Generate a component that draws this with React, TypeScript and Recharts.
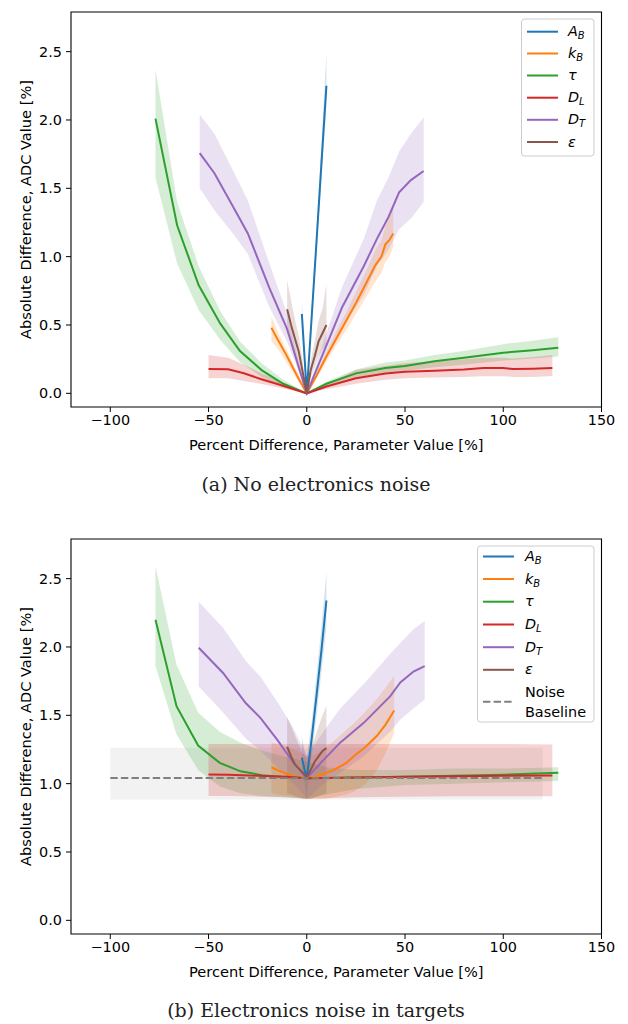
import React from 'react';
import { ComposedChart, Line, Area, XAxis, YAxis, ReferenceArea } from 'recharts';

const FONT = 'DejaVu Sans';
const C_BLUE = '#1f77b4';
const C_ORANGE = '#ff7f0e';
const C_GREEN = '#2ca02c';
const C_RED = '#d62728';
const C_PURPLE = '#9467bd';
const C_BROWN = '#8c564b';
const C_GRAY = '#7f7f7f';

const X_TICKS = [-100, -50, 0, 50, 100, 150];
const Y_TICKS = [0, 0.5, 1, 1.5, 2, 2.5];
const X_DOMAIN = [-120, 150];
const Y_DOMAIN = [-0.1, 2.79];
const X_LABEL = 'Percent Difference, Parameter Value [%]';
const Y_LABEL = 'Absolute Difference, ADC Value [%]';
const CAPTION_A = '(a) No electronics noise';
const CAPTION_B = '(b) Electronics noise in targets';

// ---------- Panel (a): no electronics noise ----------
const A_AB_X = [-2.5, -1.25, 0, 2.5, 5, 7.5, 10];
const A_AB_Y = [0.58, 0.29, 0, 0.56, 1.12, 1.69, 2.25];
const A_AB_LO = [0.52, 0.26, 0, 0.52, 1.04, 1.58, 2.1];
const A_AB_HI = [0.68, 0.34, 0, 0.61, 1.22, 1.84, 2.49];

const A_KB_X = [-18, -15, -10, -5, 0, 5, 10, 15, 20, 25, 30, 35, 38, 40, 42, 44];
const A_KB_Y = [0.48, 0.4, 0.27, 0.13, 0, 0.13, 0.27, 0.4, 0.53, 0.66, 0.8, 0.94, 1.0, 1.09, 1.12, 1.17];
const A_KB_LO = [0.38, 0.33, 0.22, 0.1, 0, 0.11, 0.23, 0.35, 0.46, 0.58, 0.7, 0.82, 0.88, 0.96, 1.0, 1.07];
const A_KB_HI = [0.56, 0.46, 0.31, 0.16, 0, 0.15, 0.3, 0.45, 0.59, 0.74, 0.89, 1.05, 1.12, 1.22, 1.28, 1.36];

const A_TAU_X = [-77, -66, -55, -44, -34, -23, -12, 0, 10, 25, 40, 50, 65, 80, 100, 115, 128];
const A_TAU_Y = [2.01, 1.23, 0.79, 0.51, 0.31, 0.17, 0.07, 0, 0.07, 0.146, 0.185, 0.2, 0.235, 0.26, 0.297, 0.315, 0.334];
const A_TAU_LO = [1.58, 0.95, 0.61, 0.39, 0.23, 0.12, 0.05, 0, 0.055, 0.115, 0.15, 0.165, 0.19, 0.21, 0.24, 0.255, 0.27];
const A_TAU_HI = [2.37, 1.4, 0.93, 0.6, 0.38, 0.22, 0.1, 0, 0.085, 0.175, 0.225, 0.24, 0.28, 0.31, 0.36, 0.385, 0.41];

const A_DL_X = [-50, -40, -32, -23.5, -15, 0, 10, 25, 40, 50, 65, 80, 90, 100, 105, 115, 125];
const A_DL_Y = [0.178, 0.176, 0.147, 0.105, 0.068, 0, 0.05, 0.11, 0.145, 0.158, 0.165, 0.175, 0.185, 0.185, 0.178, 0.18, 0.185];
const A_DL_LO = [0.11, 0.11, 0.09, 0.07, 0.045, 0, 0.03, 0.07, 0.1, 0.11, 0.115, 0.12, 0.125, 0.125, 0.12, 0.12, 0.127];
const A_DL_HI = [0.28, 0.26, 0.21, 0.15, 0.095, 0, 0.07, 0.17, 0.2, 0.22, 0.235, 0.25, 0.26, 0.26, 0.255, 0.265, 0.28];

const A_DT_X = [-54.5, -47, -36.5, -30, -19, -10, 0, 10, 18, 29, 35.7, 41.6, 47, 53, 59.5];
const A_DT_Y = [1.757, 1.61, 1.34, 1.17, 0.77, 0.47, 0, 0.35, 0.63, 0.93, 1.13, 1.29, 1.47, 1.56, 1.627];
const A_DT_LO = [1.5, 1.34, 1.15, 1.02, 0.63, 0.38, 0, 0.26, 0.48, 0.72, 0.93, 1.05, 1.2, 1.28, 1.4];
const A_DT_HI = [2.04, 1.9, 1.6, 1.41, 0.95, 0.58, 0, 0.44, 0.78, 1.13, 1.41, 1.58, 1.77, 1.9, 2.02];

const A_EPS_X = [-10, -8, -6, -4, -2, 0, 2, 4, 6, 8, 10];
const A_EPS_Y = [0.615, 0.5, 0.4, 0.3, 0.15, 0, 0.17, 0.27, 0.38, 0.44, 0.5];
const A_EPS_LO = [0.45, 0.37, 0.29, 0.21, 0.1, 0, 0.11, 0.19, 0.27, 0.32, 0.36];
const A_EPS_HI = [0.83, 0.68, 0.54, 0.41, 0.22, 0, 0.24, 0.38, 0.53, 0.62, 0.8];

// ---------- Panel (b): electronics noise in targets ----------
const B_NOISE_X = [-100, 120];
const B_NOISE_Y = [1.042, 1.042];
const B_NOISE_LO = [0.884, 0.884];
const B_NOISE_HI = [1.262, 1.262];

const B_AB_X = [-2.5, -1.25, 0, 2.5, 5, 7.5, 10];
const B_AB_Y = [1.19, 1.11, 1.04, 1.33, 1.65, 1.98, 2.34];
const B_AB_LO = [1.1, 1.0, 0.89, 1.2, 1.5, 1.82, 2.15];
const B_AB_HI = [1.35, 1.25, 1.2, 1.45, 1.8, 2.15, 2.55];

const B_KB_X = [-18, -15, -10, -5, 0, 5.3, 10, 13.7, 20, 23.9, 30, 35.7, 40, 44.5];
const B_KB_Y = [1.12, 1.1, 1.07, 1.05, 1.04, 1.054, 1.08, 1.1, 1.15, 1.2, 1.27, 1.35, 1.43, 1.535];
const B_KB_LO = [0.93, 0.92, 0.91, 0.9, 0.89, 0.89, 0.89, 0.9, 0.92, 0.94, 1.0, 1.1, 1.22, 1.37];
const B_KB_HI = [1.3, 1.29, 1.27, 1.24, 1.2, 1.22, 1.27, 1.31, 1.39, 1.44, 1.53, 1.62, 1.7, 1.79];

const B_TAU_X = [-77, -66.3, -55.3, -44.3, -33.7, -22.7, -12, 0, 10, 25, 50, 75, 100, 128];
const B_TAU_Y = [2.2, 1.567, 1.279, 1.152, 1.09, 1.062, 1.048, 1.04, 1.042, 1.045, 1.05, 1.058, 1.066, 1.079];
const B_TAU_LO = [1.86, 1.36, 1.1, 0.98, 0.93, 0.91, 0.9, 0.89, 0.92, 0.96, 0.99, 1.0, 1.01, 1.02];
const B_TAU_HI = [2.59, 1.87, 1.52, 1.38, 1.3, 1.24, 1.2, 1.16, 1.12, 1.1, 1.1, 1.11, 1.11, 1.12];

const B_DL_X = [-50, -40, -25, -10, 0, 25, 50, 75, 100, 125];
const B_DL_Y = [1.067, 1.065, 1.058, 1.05, 1.04, 1.045, 1.05, 1.055, 1.058, 1.06];
const B_DL_LO = [0.91, 0.91, 0.905, 0.9, 0.89, 0.9, 0.905, 0.907, 0.908, 0.908];
const B_DL_HI = [1.29, 1.29, 1.29, 1.29, 1.29, 1.29, 1.29, 1.29, 1.29, 1.286];

const B_DT_X = [-55, -42.6, -31.1, -23.5, -15, -6.6, 0, 7, 17, 29, 42.5, 47.6, 54.3, 60];
const B_DT_Y = [1.994, 1.81, 1.59, 1.48, 1.32, 1.15, 1.04, 1.15, 1.3, 1.445, 1.64, 1.74, 1.82, 1.86];
const B_DT_LO = [1.71, 1.52, 1.33, 1.24, 1.12, 1.0, 0.89, 0.98, 1.08, 1.2, 1.38, 1.47, 1.55, 1.615];
const B_DT_HI = [2.33, 2.14, 1.9, 1.78, 1.6, 1.4, 1.2, 1.35, 1.55, 1.73, 1.95, 2.03, 2.13, 2.19];

const B_EPS_X = [-10, -8, -6, -4, -2, 0, 2, 4, 6, 8, 10];
const B_EPS_Y = [1.27, 1.2, 1.14, 1.11, 1.08, 1.05, 1.1, 1.16, 1.2, 1.24, 1.26];
const B_EPS_LO = [0.93, 0.92, 0.91, 0.9, 0.89, 0.89, 0.89, 0.9, 0.91, 0.92, 0.93];
const B_EPS_HI = [1.49, 1.42, 1.35, 1.28, 1.22, 1.18, 1.25, 1.33, 1.42, 1.5, 1.57];

// legend labels: [main, subscript]
const LEGEND_NAMES = ['A', 'k', 'τ', 'D', 'D', 'ε'];
const LEGEND_SUBS = ['B', 'B', '', 'L', 'T', ''];
const SERIES_COLORS = [C_BLUE, C_ORANGE, C_GREEN, C_RED, C_PURPLE, C_BROWN];
const NOISE_LABEL = ['Noise', 'Baseline'];

type Pt = { x: number; y: number; lo: number; hi: number };
function zip(x: number[], y: number[], lo: number[], hi: number[]): Pt[] {
  return x.map((v, i) => ({ x: v, y: y[i], lo: lo[i], hi: hi[i] }));
}

const SERIES_A = [
  zip(A_AB_X, A_AB_Y, A_AB_LO, A_AB_HI),
  zip(A_KB_X, A_KB_Y, A_KB_LO, A_KB_HI),
  zip(A_TAU_X, A_TAU_Y, A_TAU_LO, A_TAU_HI),
  zip(A_DL_X, A_DL_Y, A_DL_LO, A_DL_HI),
  zip(A_DT_X, A_DT_Y, A_DT_LO, A_DT_HI),
  zip(A_EPS_X, A_EPS_Y, A_EPS_LO, A_EPS_HI),
];
const SERIES_B = [
  zip(B_AB_X, B_AB_Y, B_AB_LO, B_AB_HI),
  zip(B_KB_X, B_KB_Y, B_KB_LO, B_KB_HI),
  zip(B_TAU_X, B_TAU_Y, B_TAU_LO, B_TAU_HI),
  zip(B_DL_X, B_DL_Y, B_DL_LO, B_DL_HI),
  zip(B_DT_X, B_DT_Y, B_DT_LO, B_DT_HI),
  zip(B_EPS_X, B_EPS_Y, B_EPS_LO, B_EPS_HI),
];
const NOISE_B = zip(B_NOISE_X, B_NOISE_Y, B_NOISE_LO, B_NOISE_HI);

const fmtX = (v: number) => (v < 0 ? `\u2212${Math.abs(v)}` : `${v}`);
const fmtY = (v: number) => v.toFixed(1);
const band = (d: Pt) => [d.lo, d.hi];

function XLabel(props: any) {
  const vb = props.viewBox || {};
  return (
    <text x={vb.x + vb.width / 2} y={vb.y + 43} textAnchor="middle" fontFamily={FONT} fontSize={14.6} fill="#000">
      {X_LABEL}
    </text>
  );
}
function YLabel(props: any) {
  const vb = props.viewBox || {};
  const cx = 25;
  const cy = vb.y + vb.height / 2;
  return (
    <text x={cx} y={cy} transform={`rotate(-90 ${cx} ${cy})`} textAnchor="middle" dominantBaseline="central" fontFamily={FONT} fontSize={14.6} fill="#000">
      {Y_LABEL}
    </text>
  );
}

function Panel({ series, noise }: { series: Pt[][]; noise?: Pt[] }) {
  const tickStyle = { fill: '#000', fontSize: 14.4, fontFamily: FONT };
  return (
    <ComposedChart width={628} height={470} margin={{ top: 12, right: 26.5, bottom: 0, left: 0 }}>
      <XAxis
        type="number"
        dataKey="x"
        domain={X_DOMAIN}
        ticks={X_TICKS}
        allowDataOverflow
        tickFormatter={fmtX}
        tick={tickStyle}
        tickLine={{ stroke: '#000' }}
        axisLine={false}
        tickSize={5}
        tickMargin={3}
        height={63}
        label={<XLabel />}
      />
      <YAxis
        type="number"
        domain={Y_DOMAIN}
        ticks={Y_TICKS}
        allowDataOverflow
        tickFormatter={fmtY}
        tick={tickStyle}
        tickLine={{ stroke: '#000' }}
        axisLine={false}
        tickSize={5}
        tickMargin={4}
        width={71}
        label={<YLabel />}
      />
      {noise && (
        <Area
          data={noise}
          dataKey={band}
          type="linear"
          stroke="none"
          fill={C_GRAY}
          fillOpacity={0.1}
          isAnimationActive={false}
          dot={false}
          activeDot={false}
        />
      )}
      {series.map((d, i) => (
        <Area
          key={`band${i}`}
          data={d}
          dataKey={band}
          type="linear"
          stroke="none"
          fill={SERIES_COLORS[i]}
          fillOpacity={0.2}
          isAnimationActive={false}
          dot={false}
          activeDot={false}
        />
      ))}
      {series.map((d, i) => (
        <Line
          key={`line${i}`}
          data={d}
          dataKey="y"
          type="linear"
          stroke={SERIES_COLORS[i]}
          strokeWidth={2}
          dot={false}
          activeDot={false}
          isAnimationActive={false}
        />
      ))}
      {noise && (
        <Line
          data={noise}
          dataKey="y"
          type="linear"
          stroke={C_GRAY}
          strokeWidth={2}
          strokeDasharray="7.4 3.2"
          dot={false}
          activeDot={false}
          isAnimationActive={false}
        />
      )}
      <ReferenceArea
        x1={X_DOMAIN[0]}
        x2={X_DOMAIN[1]}
        y1={Y_DOMAIN[0]}
        y2={Y_DOMAIN[1]}
        fill="none"
        stroke="#000"
        strokeWidth={1.1}
        ifOverflow="visible"
      />
    </ComposedChart>
  );
}

function LegendLabel({ x, y, i }: { x: number; y: number; i: number }) {
  return (
    <text x={x} y={y} fontFamily={FONT} fontSize={14.4} fill="#000">
      <tspan fontStyle="italic">{LEGEND_NAMES[i]}</tspan>
      {LEGEND_SUBS[i] && (
        <tspan fontStyle="italic" fontSize={10} dy={3}>
          {LEGEND_SUBS[i]}
        </tspan>
      )}
    </text>
  );
}

function LegendBox({ x, y, w, h, rows, lx1, lx2, tx, noiseRow }: any) {
  return (
    <g>
      <rect x={x} y={y} width={w} height={h} rx={3} fill="#fff" fillOpacity={0.8} stroke="#cccccc" strokeWidth={1} />
      {rows.map((cy: number, i: number) => (
        <g key={i}>
          <line x1={lx1} x2={lx2} y1={cy} y2={cy} stroke={SERIES_COLORS[i]} strokeWidth={2} />
          <LegendLabel x={tx} y={cy + 4.5} i={i} />
        </g>
      ))}
      {noiseRow && (
        <g>
          <line x1={lx1} x2={lx2} y1={noiseRow} y2={noiseRow} stroke={C_GRAY} strokeWidth={2} strokeDasharray="7.4 3.2" />
          <text x={tx} y={noiseRow - 10 + 5} fontFamily={FONT} fontSize={14.4} fill="#000">{NOISE_LABEL[0]}</text>
          <text x={tx} y={noiseRow + 10 + 5} fontFamily={FONT} fontSize={14.4} fill="#000">{NOISE_LABEL[1]}</text>
        </g>
      )}
    </g>
  );
}

export default function App() {
  return (
    <div style={{ position: 'absolute', left: 0, top: 0, width: 628, height: 1024, background: '#fff' }}>
      <div style={{ position: 'absolute', left: 0, top: 0 }}>
        <Panel series={SERIES_A} />
      </div>
      <div style={{ position: 'absolute', left: 0, top: 527 }}>
        <Panel series={SERIES_B} noise={NOISE_B} />
      </div>
      <svg width={628} height={1024} style={{ position: 'absolute', left: 0, top: 0, pointerEvents: 'none' }}>
        <LegendBox x={521.5} y={19} w={72.5} h={137} rows={[31.7, 53.5, 75.5, 97.7, 119.8, 142]} lx1={527} lx2={558} tx={568} />
        <LegendBox
          x={477.5}
          y={546}
          w={116.5}
          h={176}
          rows={[556.5, 579, 601.7, 624.5, 647.2, 669.8]}
          lx1={483}
          lx2={514}
          tx={525}
          noiseRow={701.7}
        />
        <text x={316} y={491} textAnchor="middle" fontFamily="DejaVu Serif" fontSize={19} fill="#222">
          {CAPTION_A}
        </text>
        <text x={316} y={1017} textAnchor="middle" fontFamily="DejaVu Serif" fontSize={19} fill="#222">
          {CAPTION_B}
        </text>
      </svg>
    </div>
  );
}
